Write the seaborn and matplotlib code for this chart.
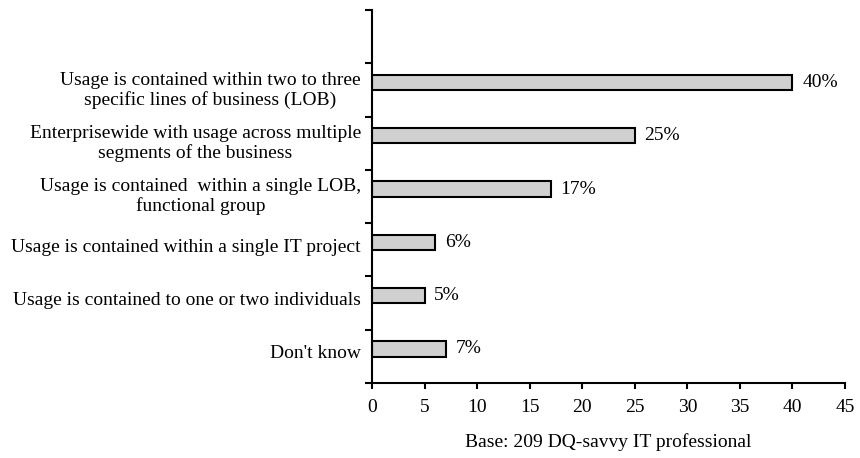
import matplotlib
matplotlib.use("Agg")
import matplotlib.pyplot as plt
import matplotlib.transforms as mtransforms
import seaborn as sns
import pandas as pd
import numpy as np

categories = [
    "Usage is contained within two to three\nspecific lines of business (LOB)",
    "Enterprisewide with usage across multiple\nsegments of the business",
    "Usage is contained  within a single LOB,\nfunctional group",
    "Usage is contained within a single IT project",
    "Usage is contained to one or two individuals",
    "Don't know",
]
values = [40, 25, 17, 6, 5, 7]
x_ticks = [0, 5, 10, 15, 20, 25, 30, 35, 40, 45]
x_label = "Base: 209 DQ-savvy IT professional"

df = pd.DataFrame({"category": categories, "value": values})

sns.set_style("ticks")
plt.rcParams["font.family"] = ["Liberation Serif", "DejaVu Serif"]
for k in ["text.color", "axes.labelcolor", "xtick.color", "ytick.color",
          "xtick.labelcolor", "ytick.labelcolor", "axes.edgecolor"]:
    plt.rcParams[k] = "black"
FS = 14

fig = plt.figure(figsize=(8.6, 4.58), dpi=100)
ax = fig.add_axes([372 / 860, 1 - 383 / 458, (845 - 372) / 860, (383 - 10) / 458])

sns.barplot(data=df, y="category", x="value", orient="h", ax=ax,
            color="#d0d0d0", edgecolor="black", linewidth=1.5, width=0.29,
            saturation=1)

off = 0.36
ax.set_ylim(len(categories) - off, -1 - off)
ax.set_xlim(0, 45)
ax.set_xticks(x_ticks)
ax.set_xticklabels([str(t) for t in x_ticks])
ax.set_yticks(np.arange(-1, len(categories) + 1) - off, minor=True)
ax.tick_params(axis="y", which="major", length=0, pad=8, labelsize=FS)
ax.tick_params(axis="y", which="minor", length=5, width=1.5, color="black")
ax.tick_params(axis="x", which="major", length=4.5, width=1.5, color="black",
               pad=7, labelsize=FS)
for lab in ax.get_yticklabels():
    lab.set_multialignment("center")
    lab.set_linespacing(1.15)
    dy = -3.5 if "\n" in lab.get_text() else -2
    lab.set_transform(lab.get_transform() +
                      mtransforms.ScaledTranslation(0, dy / 72, fig.dpi_scale_trans))

for c in ax.containers:
    ax.bar_label(c, labels=[f"{v}%" for v in values], padding=7, fontsize=FS)

ax.set_ylabel("")
ax.set_xlabel(x_label, fontsize=FS, labelpad=12)

sns.despine(ax=ax)
for s in ["left", "bottom"]:
    ax.spines[s].set_linewidth(1.5)
    ax.spines[s].set_color("black")

fig.savefig("out.png", dpi=100)
